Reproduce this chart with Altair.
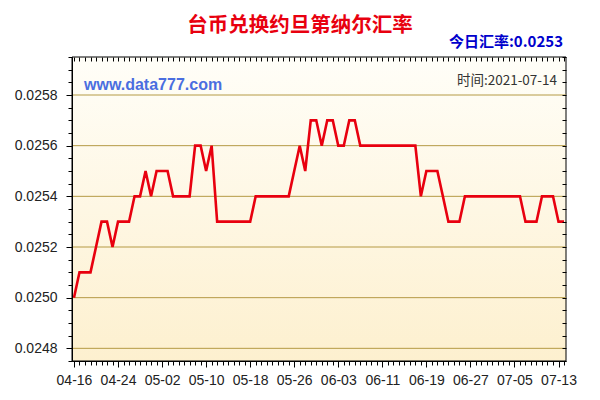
import altair as alt
import pandas as pd

# ---- data ----
start_date = "2021-04-16"
rates = [
    0.0250, 0.0251, 0.0251, 0.0251, 0.0252, 0.0253, 0.0253, 0.0252, 0.0253, 0.0253,
    0.0253, 0.0254, 0.0254, 0.0255, 0.0254, 0.0255, 0.0255, 0.0255, 0.0254, 0.0254,
    0.0254, 0.0254, 0.0256, 0.0256, 0.0255, 0.0256, 0.0253, 0.0253, 0.0253, 0.0253,
    0.0253, 0.0253, 0.0253, 0.0254, 0.0254, 0.0254, 0.0254, 0.0254, 0.0254, 0.0254,
    0.0255, 0.0256, 0.0255, 0.0257, 0.0257, 0.0256, 0.0257, 0.0257, 0.0256, 0.0256,
    0.0257, 0.0257, 0.0256, 0.0256, 0.0256, 0.0256, 0.0256, 0.0256, 0.0256, 0.0256,
    0.0256, 0.0256, 0.0256, 0.0254, 0.0255, 0.0255, 0.0255, 0.0254, 0.0253, 0.0253,
    0.0253, 0.0254, 0.0254, 0.0254, 0.0254, 0.0254, 0.0254, 0.0254, 0.0254, 0.0254,
    0.0254, 0.0254, 0.0253, 0.0253, 0.0253, 0.0254, 0.0254, 0.0254, 0.0253, 0.0253,
]
y_major = [0.0248, 0.0250, 0.0252, 0.0254, 0.0256, 0.0258]
title_text = "台币兑换约旦第纳尔汇率"
today_text = "今日汇率:0.0253"
site_text = "www.data777.com"
time_text = "时间:2021-07-14"

# ---- layout ----
W, H = 494, 304
PAD = {"left": 64, "top": 49, "right": 26, "bottom": 31}

base_ms = int(pd.Timestamp(start_date, tz="UTC").value // 10**6)
df = pd.DataFrame({"day": list(range(len(rates))), "rate": rates})
one = pd.DataFrame({"k": [0]})

day_ticks = list(range(len(rates)))
y_minor = [round(0.02475 + i * 0.00005, 5) for i in range(25)]

xscale = alt.Scale(domain=[-0.36, 89.36], nice=False, zero=False)
yscale = alt.Scale(domain=[0.02475, 0.02595], nice=False, zero=False)

major_y_test = "abs(datum.value*5000 - round(datum.value*5000)) < 0.01"
major_x_test = "datum.value % 8 === 0"

LBL_FONT = "Liberation Sans"

bg = alt.Chart(one).mark_rect(
    color=alt.LinearGradient(
        gradient="linear",
        stops=[alt.GradientStop(color="#fffef8", offset=0),
               alt.GradientStop(color="#fdf0cf", offset=1)],
        x1=0, x2=0, y1=0, y2=1,
    ),
    stroke="black", strokeWidth=1,
).encode(x=alt.value(0), x2=alt.value(W), y=alt.value(0), y2=alt.value(H))

grid = alt.Chart(pd.DataFrame({"rate": y_major})).mark_rule(
    color="#b59a45", strokeWidth=1
).encode(y=alt.Y("rate:Q", scale=yscale, axis=None))

line = alt.Chart(df).mark_line(color="#e8000f", strokeWidth=2.6).encode(
    x=alt.X("day:Q", scale=xscale, title=None, axis=alt.Axis(
        orient="bottom", values=day_ticks, grid=False, zindex=1,
        labelExpr=f"{major_x_test} ? utcFormat({base_ms} + datum.value*86400000, '%m-%d') : ''",
        labelOverlap=False, labelFlush=False, labelBound=False,
        tickSize={"condition": {"test": major_x_test, "value": 6}, "value": 4},
        tickColor="black", domainColor="black",
        labelFont=LBL_FONT, labelFontSize=14, labelColor="#222222", labelPadding=6,
    )),
    y=alt.Y("rate:Q", scale=yscale, title=None, axis=alt.Axis(
        orient="left", values=y_minor, grid=False, zindex=1,
        labelExpr=f"{major_y_test} ? format(datum.value, '.4f') : ''",
        labelOverlap=False, labelFlush=False, labelBound=False,
        tickSize={"condition": {"test": major_y_test, "value": 6}, "value": 4},
        tickColor="black", domainColor="black",
        labelFont=LBL_FONT, labelFontSize=14, labelColor="#222222", labelPadding=9,
    )),
)

frame = alt.Chart(df).mark_line(strokeOpacity=0).encode(
    x=alt.X("day:Q", scale=xscale, title=None, axis=alt.Axis(
        orient="top", values=day_ticks, labels=False, domain=False, grid=False,
        tickSize=4, offset=-4, tickColor="black", zindex=1)),
    y=alt.Y("rate:Q", scale=yscale, title=None, axis=alt.Axis(
        orient="right", values=y_minor, labels=False, domain=False, grid=False,
        tickSize=4, offset=-4, tickColor="black", zindex=1)),
)

title = alt.Chart(one).mark_text(
    text=title_text, font="Noto Sans CJK SC", fontSize=20.5, fontWeight="bold",
    color="#e8000f", align="center", baseline="alphabetic",
).encode(x=alt.value(228), y=alt.value(-25))

today = alt.Chart(one).mark_text(
    text=today_text, font="Noto Sans CJK SC", fontSize=15, fontWeight="bold",
    color="#0000cc", align="right", baseline="middle",
).encode(x=alt.value(491), y=alt.value(-15))

site = alt.Chart(one).mark_text(
    text=site_text, font="Liberation Sans", fontSize=16, fontWeight="bold",
    color="#4a6ee0", align="left", baseline="middle",
).encode(x=alt.value(12), y=alt.value(28))

stamp = alt.Chart(one).mark_text(
    text=time_text, font="Noto Sans CJK SC", fontSize=13.5,
    color="#333333", align="right", baseline="middle",
).encode(x=alt.value(485), y=alt.value(24))

chart = alt.layer(bg, grid, line, frame, title, today, site, stamp).resolve_axis(
    x="independent", y="independent"
).properties(
    width=W, height=H, padding=PAD,
    autosize=alt.AutoSizeParams(type="none"),
    background="white",
).configure_view(stroke="transparent")

chart.save("out.html", embed_options={"renderer": "svg", "actions": False})
